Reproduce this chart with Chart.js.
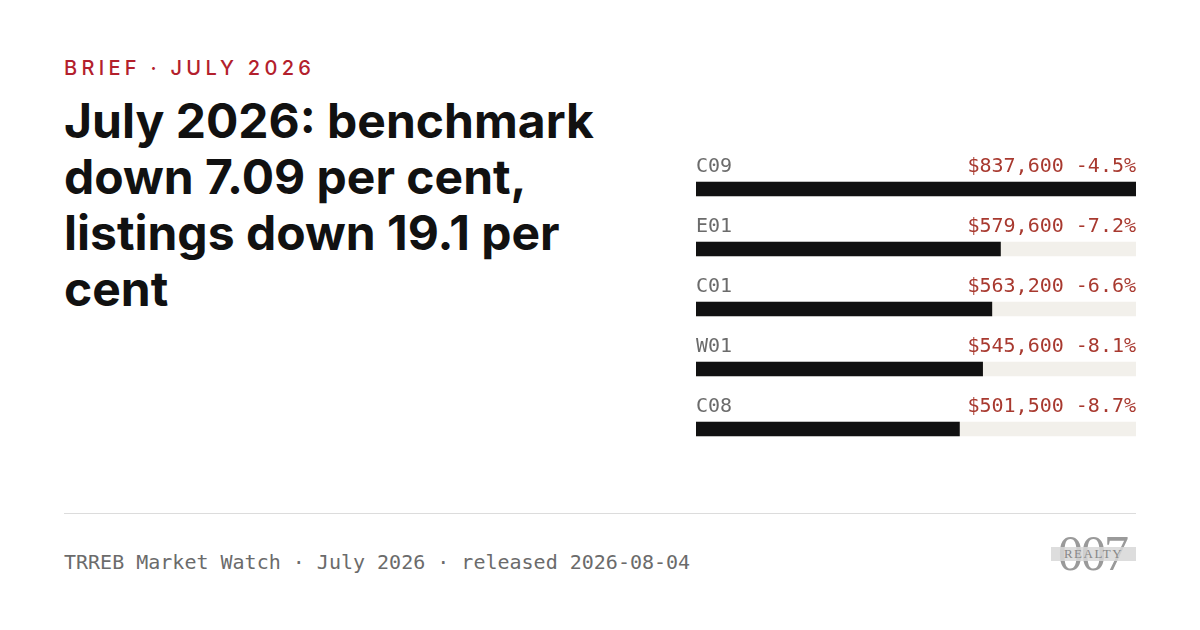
<!DOCTYPE html>
<html lang="en">
<head>
    <meta charset="UTF-8">
    <title>July 2026 brief</title>
    <script src="https://cdn.jsdelivr.net/npm/chart.js"></script>
    <style>
        html, body {
            margin: 0;
            padding: 0;
            background: #fff;
        }
        .page {
            position: relative;
            width: 1200px;
            height: 630px;
            overflow: hidden;
        }
        .kicker {
            position: absolute;
            left: 64px;
            top: 54px;
            font-family: Inter, sans-serif;
            font-size: 20px;
            font-weight: 500;
            letter-spacing: 0.215em;
            color: #b3202c;
            line-height: 28px;
        }
        .headline {
            position: absolute;
            left: 64px;
            top: 93px;
            width: 600px;
            margin: 0;
            font-family: Inter, sans-serif;
            font-size: 48px;
            font-weight: 700;
            letter-spacing: 0;
            line-height: 56px;
            color: #111;
        }
        .chart-box {
            position: absolute;
            left: 696px;
            top: 130px;
            width: 440px;
            height: 340px;
        }
        .rule {
            position: absolute;
            left: 64px;
            top: 513px;
            width: 1072px;
            height: 1px;
            background: #dcdcdc;
        }
        .footer {
            position: absolute;
            left: 64px;
            top: 548px;
            font-family: "DejaVu Sans Mono", monospace;
            font-size: 20px;
            color: #6b6b6b;
            line-height: 28px;
        }
        .logo {
            position: absolute;
            left: 1050px;
            top: 530px;
            width: 88px;
            height: 48px;
        }
        .logo .num {
            position: absolute;
            left: 8px;
            top: -2px;
            font-family: "Liberation Serif", serif;
            font-size: 50px;
            line-height: 50px;
            color: #9a9a9a;
            letter-spacing: -2px;
        }
        .logo .band {
            position: absolute;
            left: 1px;
            top: 17px;
            width: 85px;
            height: 14px;
            background: rgba(215, 215, 215, 0.85);
            font-family: "Liberation Serif", serif;
            font-size: 13px;
            line-height: 14px;
            letter-spacing: 1.5px;
            color: #888;
            text-align: center;
        }
    </style>
</head>
<body>
<div class="page">
    <div class="kicker">BRIEF · JULY 2026</div>
    <h1 class="headline">July 2026: benchmark down 7.09 per cent, listings down 19.1 per cent</h1>
    <div class="chart-box">
        <canvas id="districtChart"></canvas>
    </div>
    <div class="rule"></div>
    <div class="footer">TRREB Market Watch · July 2026 · released 2026-08-04</div>
    <div class="logo">
        <div class="num">007</div>
        <div class="band">REALTY</div>
    </div>
</div>

<script>
    const districts = ['C09', 'E01', 'C01', 'W01', 'C08'];
    const benchmarkPrices = [837600, 579600, 563200, 545600, 501500];
    const yearChange = [-4.5, -7.2, -6.6, -8.1, -8.7];

    const maxPrice = Math.max(...benchmarkPrices);
    const trackValues = districts.map(() => maxPrice);

    function formatPrice(v) {
        return '$' + v.toLocaleString('en-US');
    }

    // labels above each bar: district on the left, price and change on the right
    const rowLabels = {
        id: 'rowLabels',
        afterDatasetsDraw(chart) {
            const ctx = chart.ctx;
            const meta = chart.getDatasetMeta(1);
            const area = chart.chartArea;
            ctx.save();
            ctx.font = '20px "DejaVu Sans Mono", monospace';
            ctx.textBaseline = 'alphabetic';
            meta.data.forEach((bar, i) => {
                const y = bar.y - 17;
                ctx.fillStyle = '#6b6b6b';
                ctx.textAlign = 'left';
                ctx.fillText(districts[i], area.left, y);
                ctx.fillStyle = '#a8392f';
                ctx.textAlign = 'right';
                const pct = yearChange[i].toFixed(1) + '%';
                ctx.fillText(formatPrice(benchmarkPrices[i]) + ' ' + pct, area.right, y);
            });
            ctx.restore();
        }
    };

    new Chart(document.getElementById('districtChart'), {
        type: 'bar',
        data: {
            labels: districts,
            datasets: [
                {
                    label: 'track',
                    data: trackValues,
                    backgroundColor: '#f2f0eb',
                    barThickness: 14,
                    grouped: false,
                    order: 2
                },
                {
                    label: 'Benchmark price',
                    data: benchmarkPrices,
                    backgroundColor: '#111111',
                    barThickness: 14,
                    grouped: false,
                    order: 1
                }
            ]
        },
        options: {
            indexAxis: 'y',
            responsive: true,
            maintainAspectRatio: false,
            animation: false,
            layout: {
                padding: { top: 29, bottom: 11, left: 0, right: 0 }
            },
            scales: {
                x: { display: false, min: 0, max: maxPrice },
                y: { display: false }
            },
            plugins: {
                legend: { display: false },
                tooltip: { enabled: false }
            }
        },
        plugins: [rowLabels]
    });
</script>
</body>
</html>
